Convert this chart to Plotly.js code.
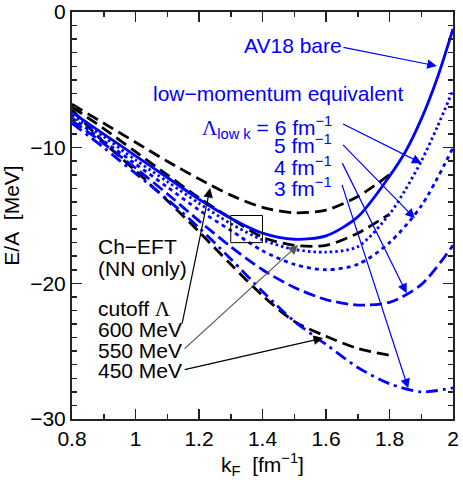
<!DOCTYPE html>
<html>
<head>
<meta charset="utf-8">
<script src="https://cdn.plot.ly/plotly-3.0.1.min.js"></script>
<style>html,body{margin:0;padding:0;background:#fff;}#chart{width:463px;height:486px;}</style>
</head>
<body>
<div id="chart"></div>
<script>
// ---- data ----
const kF_black = [0.8, 0.9, 1.0, 1.1, 1.2, 1.3, 1.4, 1.5, 1.6, 1.7, 1.8];
const chEFT_600 = [-6.8, -8.2, -9.6, -11.0, -12.3, -13.5, -14.4, -14.8, -14.6, -13.6, -12.0];
const chEFT_550 = [-7.0, -8.6, -10.3, -12.0, -13.7, -15.2, -16.6, -17.2, -17.2, -16.3, -14.9];
const chEFT_450 = [-7.2, -9.6, -11.7, -13.9, -16.2, -18.6, -20.9, -22.8, -23.9, -24.8, -25.3];

const kF_av18 = [0.8, 0.9, 1.0, 1.1, 1.2, 1.3, 1.4, 1.5, 1.6, 1.7, 1.8, 1.85, 1.9, 1.95, 2.0];
const av18 = [-7.4, -9.0, -10.6, -12.2, -13.8, -15.2, -16.3, -16.75, -16.5, -15.1, -12.1, -10.3, -7.9, -4.9, -1.25];

const kF_lam6 = [0.8, 0.9, 1.0, 1.1, 1.2, 1.3, 1.4, 1.5, 1.6, 1.7, 1.8, 1.85, 1.9, 1.95, 2.0];
const lowk_6 = [-7.6, -9.2, -10.9, -12.5, -14.1, -15.6, -16.8, -17.5, -17.7, -17.3, -14.9, -13.1, -11.0, -8.5, -5.75];

const kF_lowk = [0.8, 0.9, 1.0, 1.1, 1.2, 1.3, 1.4, 1.5, 1.6, 1.7, 1.8, 1.9, 2.0];
const lowk_5 = [-7.8, -9.5, -11.2, -12.9, -14.6, -16.1, -17.6, -18.6, -19.0, -18.6, -17.0, -14.3, -10.0];
const lowk_4 = [-8.0, -9.7, -11.5, -13.4, -15.4, -17.3, -19.0, -20.3, -21.2, -21.6, -21.4, -20.1, -17.2];
const lowk_3 = [-8.2, -10.0, -11.9, -13.8, -15.9, -18.2, -20.6, -22.8, -24.5, -26.2, -27.4, -28.0, -27.7];

const xTicks = [0.8, 1.0, 1.2, 1.4, 1.6, 1.8, 2.0];
const yTicks = [-30, -20, -10, 0];

// ---- styling ----
const FONT = 'Liberation Sans, Arial, Helvetica, sans-serif';
const BLUE = '#0000ff';
const LW = 2.8;

function tr(x, y, color, dash) {
  return {x: x, y: y, type: 'scatter', mode: 'lines', hoverinfo: 'skip',
          line: {color: color, width: LW, dash: dash, shape: 'spline', smoothing: 0.8}};
}

const traces = [
  tr(kF_black, chEFT_600, '#000', '12px,6px'),
  tr(kF_black, chEFT_550, '#000', '12px,6px'),
  tr(kF_black, chEFT_450, '#000', '12px,6px'),
  tr(kF_av18, av18, BLUE, 'solid'),
  tr(kF_lam6, lowk_6, BLUE, '2.5px,3px'),
  tr(kF_lowk, lowk_5, BLUE, '4px,4px'),
  tr(kF_lowk, lowk_4, BLUE, '12px,5px'),
  tr(kF_lowk, lowk_3, BLUE, '12px,5px,3px,5px')
];

function txt(x, y, text, color, anchor) {
  return {x: x, y: y, xref: 'x', yref: 'y', text: text, showarrow: false,
          xanchor: anchor || 'left', yanchor: 'middle', borderpad: 0,
          font: {family: FONT, size: 21, color: color}};
}
function arrow(ax, ay, x, y, color, w) {
  return {x: x, y: y, ax: ax, ay: ay, xref: 'x', yref: 'y', axref: 'x', ayref: 'y',
          text: '', showarrow: true, arrowhead: 2, arrowsize: 1.6, arrowwidth: w || 1.2,
          arrowcolor: color, standoff: 0, startstandoff: 0};
}
const LAM = '<span style="font-family:Liberation Serif, Times New Roman, serif">Λ</span>';

const annotations = [
  txt(1.3386, -2.45, 'AV18 bare', BLUE),
  txt(1.052, -6.0, 'low\u2212momentum equivalent', BLUE),
  txt(1.622, -8.5, LAM + '<sub>low k</sub> = 6 fm<sup>\u22121</sup>', BLUE, 'right'),
  txt(1.622, -9.75, '5 fm<sup>\u22121</sup>', BLUE, 'right'),
  txt(1.622, -11.35, '4 fm<sup>\u22121</sup>', BLUE, 'right'),
  txt(1.622, -12.9, '3 fm<sup>\u22121</sup>', BLUE, 'right'),
  txt(0.8787, -17.25, 'Ch\u2212EFT', '#000'),
  txt(0.8787, -18.87, '(NN only)', '#000'),
  txt(0.8787, -21.89, 'cutoff ' + LAM, '#000'),
  txt(0.8787, -23.40, '600 MeV', '#000'),
  txt(0.8787, -24.93, '550 MeV', '#000'),
  txt(0.8787, -26.46, '450 MeV', '#000'),
  arrow(1.650, -2.58, 1.949, -3.98, BLUE),
  arrow(1.649, -8.20, 1.901, -11.15, BLUE),
  arrow(1.649, -9.68, 1.880, -15.21, BLUE),
  arrow(1.649, -11.03, 1.854, -20.73, BLUE),
  arrow(1.649, -12.63, 1.859, -27.74, BLUE),
  arrow(1.146, -23.07, 1.235, -12.97, '#000'),
  arrow(1.150, -24.91, 1.512, -17.17, '#555'),
  arrow(1.150, -26.39, 1.591, -24.03, '#000')
];

const axisCommon = {
  showline: true, linecolor: '#222', linewidth: 2, mirror: 'allticks',
  ticks: 'inside', ticklen: 10, tickwidth: 1.5, tickcolor: '#222',
  showgrid: false, zeroline: false,
  tickfont: {family: FONT, size: 21, color: '#000'}
};

const layout = {
  width: 463, height: 486,
  margin: {l: 72, r: 10, t: 12, b: 67},
  paper_bgcolor: '#fff', plot_bgcolor: '#fff',
  showlegend: false,
  font: {family: FONT, color: '#000'},
  xaxis: Object.assign({}, axisCommon, {
    range: [0.8, 2.0], tickvals: xTicks,
    minor: {dtick: 0.1, ticks: 'inside', ticklen: 5, tickwidth: 1.5, tickcolor: '#222'},
    title: {text: 'k<sub>F</sub>\u00a0 [fm<sup>\u22121</sup>]', font: {family: FONT, size: 21}, standoff: 6}
  }),
  yaxis: Object.assign({}, axisCommon, {
    range: [-30, 0], tickvals: yTicks,
    minor: {dtick: 1, ticks: 'inside', ticklen: 5, tickwidth: 1.5, tickcolor: '#222'},
    title: {text: 'E/A\u00a0 [MeV]', font: {family: FONT, size: 21}, standoff: 6}
  }),
  shapes: [{type: 'rect', xref: 'x', yref: 'y', x0: 1.3, x1: 1.4, y0: -15.0, y1: -17.0,
            line: {color: '#000', width: 1}}],
  annotations: annotations
};

Plotly.newPlot('chart', traces, layout, {staticPlot: true, displayModeBar: false});
</script>
</body>
</html>
